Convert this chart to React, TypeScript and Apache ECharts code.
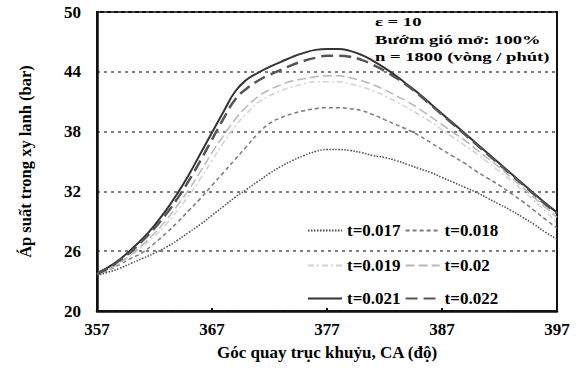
import React, { useEffect, useRef } from "react";
import * as echarts from "echarts";

const angles = [
  "357","358","359","360","361","362","363","364","365","366","367","368","369","370",
  "371","372","373","374","375","376","377","378","379","380","381","382","383","384",
  "385","386","387","388","389","390","391","392","393","394","395","396","397",
];

const t017 = [23.6,23.9,24.3,24.8,25.3,25.8,26.4,27.1,27.9,28.7,29.6,30.5,31.4,32.2,33.0,33.8,34.5,35.1,35.6,36.0,36.2,36.2,36.1,35.9,35.6,35.4,35.1,34.7,34.3,33.9,33.4,32.9,32.4,31.9,31.3,30.7,30.1,29.4,28.7,27.9,27.2];
const t018 = [23.7,24.1,24.7,25.3,25.9,26.8,27.8,28.9,30.1,31.3,32.6,33.9,35.2,36.5,37.8,38.8,39.4,39.8,40.1,40.3,40.4,40.4,40.3,40.1,39.7,39.2,38.7,38.2,37.6,36.9,36.2,35.5,34.8,34.0,33.3,32.6,31.8,31.0,30.1,29.2,28.3];
const t019 = [23.7,24.2,24.8,25.6,26.5,27.5,28.7,30.1,31.6,33.3,35.1,36.9,38.5,39.8,40.9,41.6,42.1,42.5,42.8,43.0,43.0,43.0,42.8,42.5,42.1,41.6,41.0,40.4,39.7,39.0,38.2,37.4,36.6,35.8,34.9,34.0,33.1,32.1,31.1,30.0,28.9];
const t020 = [23.7,24.2,24.9,25.7,26.7,27.8,29.1,30.6,32.2,34.0,35.9,37.6,39.2,40.5,41.5,42.2,42.7,43.1,43.3,43.5,43.6,43.6,43.4,43.1,42.7,42.2,41.6,41.0,40.3,39.5,38.7,37.9,37.1,36.2,35.3,34.4,33.4,32.4,31.4,30.4,29.4];
const t021 = [23.8,24.4,25.2,26.2,27.3,28.6,30.1,31.8,33.7,35.8,37.9,40.0,42.0,43.2,43.9,44.5,45.0,45.5,45.9,46.2,46.3,46.3,46.1,45.7,45.1,44.4,43.6,42.7,41.8,40.8,39.8,38.8,37.8,36.8,35.8,34.8,33.8,32.8,31.8,30.8,29.9];
const t022 = [23.7,24.3,25.1,26.0,27.1,28.3,29.7,31.3,33.1,35.1,37.2,39.3,41.2,42.3,43.1,43.7,44.2,44.7,45.1,45.4,45.6,45.6,45.5,45.2,44.7,44.1,43.4,42.6,41.7,40.7,39.7,38.7,37.7,36.7,35.7,34.7,33.7,32.7,31.7,30.7,29.8];

const seriesNames = ["t=0.017", "t=0.018", "t=0.019", "t=0.02", "t=0.021", "t=0.022"];
const seriesData = [t017, t018, t019, t020, t021, t022];
const annotations = ["ε = 10", "Bướm gió mở: 100%", "n = 1800 (vòng / phút)"];
const xTitle = "Góc quay trục khuỷu, CA (độ)";
const yTitle = "Áp suất trong xy lanh (bar)";

const FONT = "Liberation Serif";

const lineStyles = [
  { color: "#4a4a4a", width: 1.5, type: [1.5, 1.5] },
  { color: "#7a7a7a", width: 1.5, type: [4, 3] },
  { color: "#d2d2d2", width: 1.5, type: [6, 3, 2, 3] },
  { color: "#b8b8b8", width: 1.5, type: [9, 4] },
  { color: "#333333", width: 2, type: "solid" },
  { color: "#555555", width: 2.5, type: [12, 6] },
];

export default function App() {
  const ref = useRef<HTMLDivElement>(null);
  useEffect(() => {
    if (!ref.current) return;
    const chart = echarts.init(ref.current, null, { renderer: "svg" });
    const legendRow = (names: string[], top: number) => ({
      data: names,
      orient: "horizontal",
      left: 307,
      top,
      padding: 0,
      itemWidth: 34,
      itemHeight: 12,
      itemGap: 4,
      selectedMode: false,
      itemStyle: { opacity: 0 },
      textStyle: { fontFamily: FONT, fontWeight: "bold", fontSize: 17, color: "#000", width: 58 },
    });
    chart.setOption({
      animation: false,
      backgroundColor: "#fff",
      grid: {
        left: 97, right: 22, top: 12, bottom: 59,
        show: true, borderColor: "#111", borderWidth: 2, backgroundColor: "transparent",
      },
      legend: [
        legendRow([seriesNames[0], seriesNames[1]], 222),
        legendRow([seriesNames[2], seriesNames[3]], 257),
        legendRow([seriesNames[4], seriesNames[5]], 290),
      ],
      xAxis: {
        type: "category",
        data: angles,
        boundaryGap: false,
        name: xTitle,
        nameLocation: "middle",
        nameGap: 33,
        nameTextStyle: { fontFamily: FONT, fontWeight: "bold", fontSize: 17, color: "#000" },
        axisLine: { lineStyle: { color: "#111", width: 2.5 } },
        axisTick: { show: true, inside: true, interval: 9, length: 3, lineStyle: { color: "#111", width: 2 } },
        axisLabel: { interval: 9, margin: 10, fontFamily: FONT, fontWeight: "bold", fontSize: 17, color: "#000" },
        splitLine: { show: false },
      },
      yAxis: {
        type: "value",
        min: 20, max: 50, interval: 6,
        name: yTitle,
        nameLocation: "middle",
        nameRotate: 90,
        nameGap: 63,
        nameTextStyle: { fontFamily: FONT, fontWeight: "bold", fontSize: 16.5, color: "#000" },
        axisLine: { show: true, lineStyle: { color: "#111", width: 2.5 } },
        axisTick: { show: false },
        axisLabel: { margin: 16, fontFamily: FONT, fontWeight: "bold", fontSize: 17, color: "#000" },
        splitLine: { show: true, lineStyle: { color: "#555", width: 1.5, type: [3, 4] } },
      },
      graphic: annotations.map((t, i) => ({
        type: "text",
        x: 375,
        y: 22 + i * 17.5,
        scaleX: 1.38,
        style: {
          text: t, fontFamily: FONT, fontWeight: "bold", fontSize: 13.5, fill: "#000",
          verticalAlign: "middle", align: "left",
        },
      })),
      series: seriesNames.map((n, i) => ({
        name: n,
        type: "line",
        data: seriesData[i],
        smooth: true,
        symbol: "none",
        showSymbol: false,
        lineStyle: lineStyles[i],
        itemStyle: { color: lineStyles[i].color },
        z: 2 + i,
      })),
    });
    return () => chart.dispose();
  }, []);
  return (
    <div
      ref={ref}
      style={{ position: "fixed", left: 0, top: 0, width: 579, height: 370 }}
    />
  );
}
